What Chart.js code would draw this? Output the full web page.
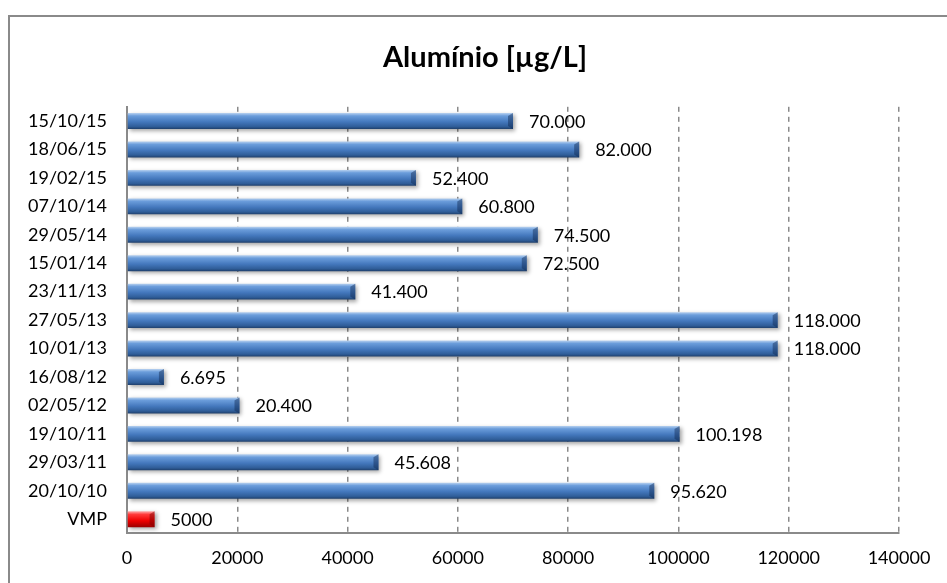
<!DOCTYPE html>
<html>
<head>
<meta charset="utf-8">
<script src="https://cdn.jsdelivr.net/npm/chart.js@4/dist/chart.umd.min.js"></script>
<style>
  html, body { margin: 0; padding: 0; background: #ffffff; overflow: hidden; }
  #wrap { position: relative; width: 947px; height: 583px; }
  #frame { position: absolute; left: 8px; top: 15px; width: 1200px; height: 1200px; border: 2px solid #8a8a8a; box-sizing: border-box; }
  canvas { position: absolute; left: 0; top: 0; }
</style>
</head>
<body>
<div id="wrap">
  <div id="frame"></div>
  <canvas id="c" width="947" height="583"></canvas>
</div>
<script>
const chartTitle = 'Alumínio [µg/L]';
const categories = ['15/10/15','18/06/15','19/02/15','07/10/14','29/05/14','15/01/14','23/11/13','27/05/13','10/01/13','16/08/12','02/05/12','19/10/11','29/03/11','20/10/10','VMP'];
const measuredValues = [70000, 82000, 52400, 60800, 74500, 72500, 41400, 118000, 118000, 6695, 20400, 100198, 45608, 95620];
const vmpValue = 5000;
const xTicks = [0, 20000, 40000, 60000, 80000, 100000, 120000, 140000];

const allValues = measuredValues.concat([vmpValue]);
const vmpIndex = categories.length - 1;
const FONT = 'Lato, "Open Sans", sans-serif';

function fmt(v, i) {
  if (i === vmpIndex) return String(v);
  return String(v).replace(/\B(?=(\d{3})+(?!\d))/g, '.');
}

function barFill(ctx) {
  const chart = ctx.chart;
  const isVmp = ctx.dataIndex === vmpIndex;
  const base = isVmp ? '#ee1111' : '#4a7ebb';
  const ys = chart.scales && chart.scales.y;
  if (!ys || !chart.chartArea) return base;
  const yc = ys.getPixelForValue(ctx.dataIndex);
  const g = chart.ctx.createLinearGradient(0, yc - 8, 0, yc + 8);
  if (isVmp) {
    g.addColorStop(0, '#ffb0b0');
    g.addColorStop(0.2, '#ff3b3b');
    g.addColorStop(0.6, '#ee0000');
    g.addColorStop(1, '#9a0000');
  } else {
    g.addColorStop(0, '#b9d2f0');
    g.addColorStop(0.18, '#6b9ddb');
    g.addColorStop(0.55, '#4478bd');
    g.addColorStop(0.85, '#2f5d98');
    g.addColorStop(1, '#1f3f6b');
  }
  return g;
}

const shadowPlugin = {
  id: 'barShadow',
  beforeDatasetsDraw(chart) {
    const c = chart.ctx;
    c.save();
    c.shadowColor = 'rgba(0,0,0,0.35)';
    c.shadowBlur = 4;
    c.shadowOffsetX = 2;
    c.shadowOffsetY = 2;
  },
  afterDatasetsDraw(chart) {
    chart.ctx.restore();
    const c = chart.ctx;
    const meta = chart.getDatasetMeta(0);
    const data = chart.data.datasets[0].data;
    c.save();
    // right-end bevel
    meta.data.forEach((bar, i) => {
      const top = bar.y - bar.height / 2;
      const bot = bar.y + bar.height / 2;
      const b = 5;
      c.beginPath();
      c.moveTo(bar.x - b, top + 3);
      c.lineTo(bar.x, top);
      c.lineTo(bar.x, bot);
      c.lineTo(bar.x - b, bot - 3);
      c.closePath();
      c.fillStyle = i === vmpIndex ? 'rgba(110,0,0,0.45)' : 'rgba(15,40,80,0.45)';
      c.fill();
    });
    c.font = '18px ' + FONT;
    c.fillStyle = '#000000';
    c.textAlign = 'left';
    c.textBaseline = 'middle';
    meta.data.forEach((bar, i) => {
      c.fillText(fmt(data[i], i), bar.x + 16, bar.y + 1);
    });
    c.restore();
  }
};

const titleShift = {
  id: 'titleShift',
  afterLayout(chart) {
    if (chart.titleBlock) {
      chart.titleBlock.left = 23;
      chart.titleBlock.right = 947;
    }
  }
};

new Chart(document.getElementById('c'), {
  type: 'bar',
  data: {
    labels: categories,
    datasets: [{
      data: allValues,
      backgroundColor: barFill,
      borderWidth: 0,
      categoryPercentage: 1,
      barPercentage: 0.56
    }]
  },
  plugins: [shadowPlugin, titleShift],
  options: {
    indexAxis: 'y',
    responsive: false,
    animation: false,
    layout: { padding: { left: 0, right: 48, top: 15, bottom: 0 } },
    plugins: {
      legend: { display: false },
      tooltip: { enabled: false },
      title: {
        display: true,
        text: chartTitle,
        color: '#000000',
        font: { family: FONT, size: 29, weight: 'bold' },
        padding: { top: 25, bottom: 32 }
      }
    },
    scales: {
      x: {
        min: 0,
        max: 140000,
        afterBuildTicks(scale) { scale.ticks = xTicks.map(v => ({ value: v })); },
        ticks: {
          color: '#000000',
          font: { family: FONT, size: 18 },
          padding: 14,
          callback: (v) => String(v)
        },
        grid: {
          display: true,
          color: (ctx) => (ctx.index === 0 ? 'rgba(0,0,0,0)' : '#8a8a8a'),
          lineWidth: 1.5,
          drawTicks: false
        },
        border: { display: true, color: '#8a8a8a', width: 2, dash: [5, 5] }
      },
      y: {
        afterFit(scale) { scale.width = 127; },
        ticks: {
          color: '#000000',
          font: { family: FONT, size: 18 },
          padding: 20
        },
        grid: { display: false, drawTicks: false },
        border: { display: true, color: '#8a8a8a', width: 2 }
      }
    }
  }
});
</script>
</body>
</html>
